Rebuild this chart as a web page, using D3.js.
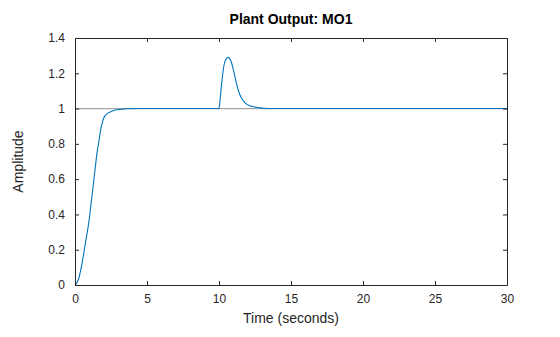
<!DOCTYPE html>
<html>
<head>
<meta charset="utf-8">
<script src="https://cdn.jsdelivr.net/npm/d3@7"></script>
<style>
  html, body { margin: 0; padding: 0; background: #fff; }
  svg { display: block; font-family: "Liberation Sans", Arial, Helvetica, sans-serif; }
</style>
</head>
<body>
<svg id="chart" width="560" height="337"></svg>
<script>
// ---- Data ----
const timeValues = [0, 0.1, 0.26, 0.49, 0.72, 0.95, 1.2, 1.4, 1.53, 1.65, 1.76, 1.88, 1.99, 2.15, 2.34, 2.55, 2.8, 3.2, 3.6, 4.5, 6, 8, 10,
  10.05, 10.18, 10.35, 10.5, 10.65, 10.78, 10.88, 11.0, 11.11, 11.22, 11.34, 11.45, 11.57, 11.75, 11.92, 12.15, 12.4, 12.8, 13.1, 14, 15, 20, 25, 30];
const amplitudeValues = [0, 0.008, 0.038, 0.123, 0.236, 0.35, 0.52, 0.66, 0.75, 0.81, 0.87, 0.915, 0.945, 0.965, 0.977, 0.985, 0.992, 0.996, 0.999, 1.0, 1.0, 1.0, 1.0,
  1.03, 1.14, 1.247, 1.282, 1.29, 1.278, 1.257, 1.22, 1.18, 1.14, 1.105, 1.078, 1.058, 1.038, 1.025, 1.016, 1.010, 1.005, 1.002, 1.0005, 1.0, 1.0, 1.0, 1.0];
const referenceValue = 1;
const xTicks = [0, 5, 10, 15, 20, 25, 30];
const yTicks = [0, 0.2, 0.4, 0.6, 0.8, 1, 1.2, 1.4];
const titleText = "Plant Output: MO1";
const xLabelText = "Time (seconds)";
const yLabelText = "Amplitude";

// ---- Layout ----
const plotLeft = 75, plotRight = 507, plotTop = 38, plotBottom = 285;
const axisColor = "#262626";
const svg = d3.select("#chart");

const x = d3.scaleLinear().domain([0, 30]).range([plotLeft, plotRight]);
const y = d3.scaleLinear().domain([0, 1.4]).range([plotBottom, plotTop]);

// reference line
svg.append("line")
  .attr("x1", x(0)).attr("x2", x(30))
  .attr("y1", y(referenceValue)).attr("y2", y(referenceValue))
  .attr("stroke", "#a6a6a6").attr("stroke-width", 1.3);

// response line
const pts = timeValues.map((t, i) => [t, amplitudeValues[i]]);
svg.append("path")
  .datum(pts)
  .attr("fill", "none")
  .attr("stroke", "#0072BD")
  .attr("stroke-width", 1.1)
  .attr("d", d3.line().x(d => x(d[0])).y(d => y(d[1])).curve(d3.curveMonotoneX));

// axes (inward ticks on all sides, MATLAB style)
const fmt = d => String(+(+d).toFixed(1));
const tickLen = 4;
const gB = svg.append("g").attr("transform", `translate(0,${plotBottom})`)
  .call(d3.axisBottom(x).tickValues(xTicks).tickSizeInner(-tickLen).tickSizeOuter(0).tickPadding(9).tickFormat(fmt));
const gT = svg.append("g").attr("transform", `translate(0,${plotTop})`)
  .call(d3.axisTop(x).tickValues(xTicks).tickSizeInner(-tickLen).tickSizeOuter(0).tickFormat(""));
const gL = svg.append("g").attr("transform", `translate(${plotLeft},0)`)
  .call(d3.axisLeft(y).tickValues(yTicks).tickSizeInner(-tickLen).tickSizeOuter(0).tickPadding(10).tickFormat(fmt));
const gR = svg.append("g").attr("transform", `translate(${plotRight},0)`)
  .call(d3.axisRight(y).tickValues(yTicks).tickSizeInner(-tickLen).tickSizeOuter(0).tickFormat(""));

[gB, gT, gL, gR].forEach(g => {
  g.select(".domain").attr("stroke", axisColor).attr("stroke-width", 1);
  g.selectAll(".tick line").attr("stroke", axisColor);
  g.selectAll(".tick text").attr("fill", axisColor).attr("font-size", 12)
    .attr("font-family", "'Liberation Sans', Arial, sans-serif");
});

// titles
svg.append("text")
  .attr("x", (plotLeft + plotRight) / 2).attr("y", 23.5)
  .attr("text-anchor", "middle").attr("font-weight", "bold").attr("font-size", 14)
  .attr("fill", "#000").text(titleText);
svg.append("text")
  .attr("x", (plotLeft + plotRight) / 2).attr("y", 323)
  .attr("text-anchor", "middle").attr("font-size", 14)
  .attr("fill", axisColor).text(xLabelText);
svg.append("text")
  .attr("transform", `translate(23,${(plotTop + plotBottom) / 2}) rotate(-90)`)
  .attr("text-anchor", "middle").attr("font-size", 14)
  .attr("fill", axisColor).text(yLabelText);
</script>
</body>
</html>
